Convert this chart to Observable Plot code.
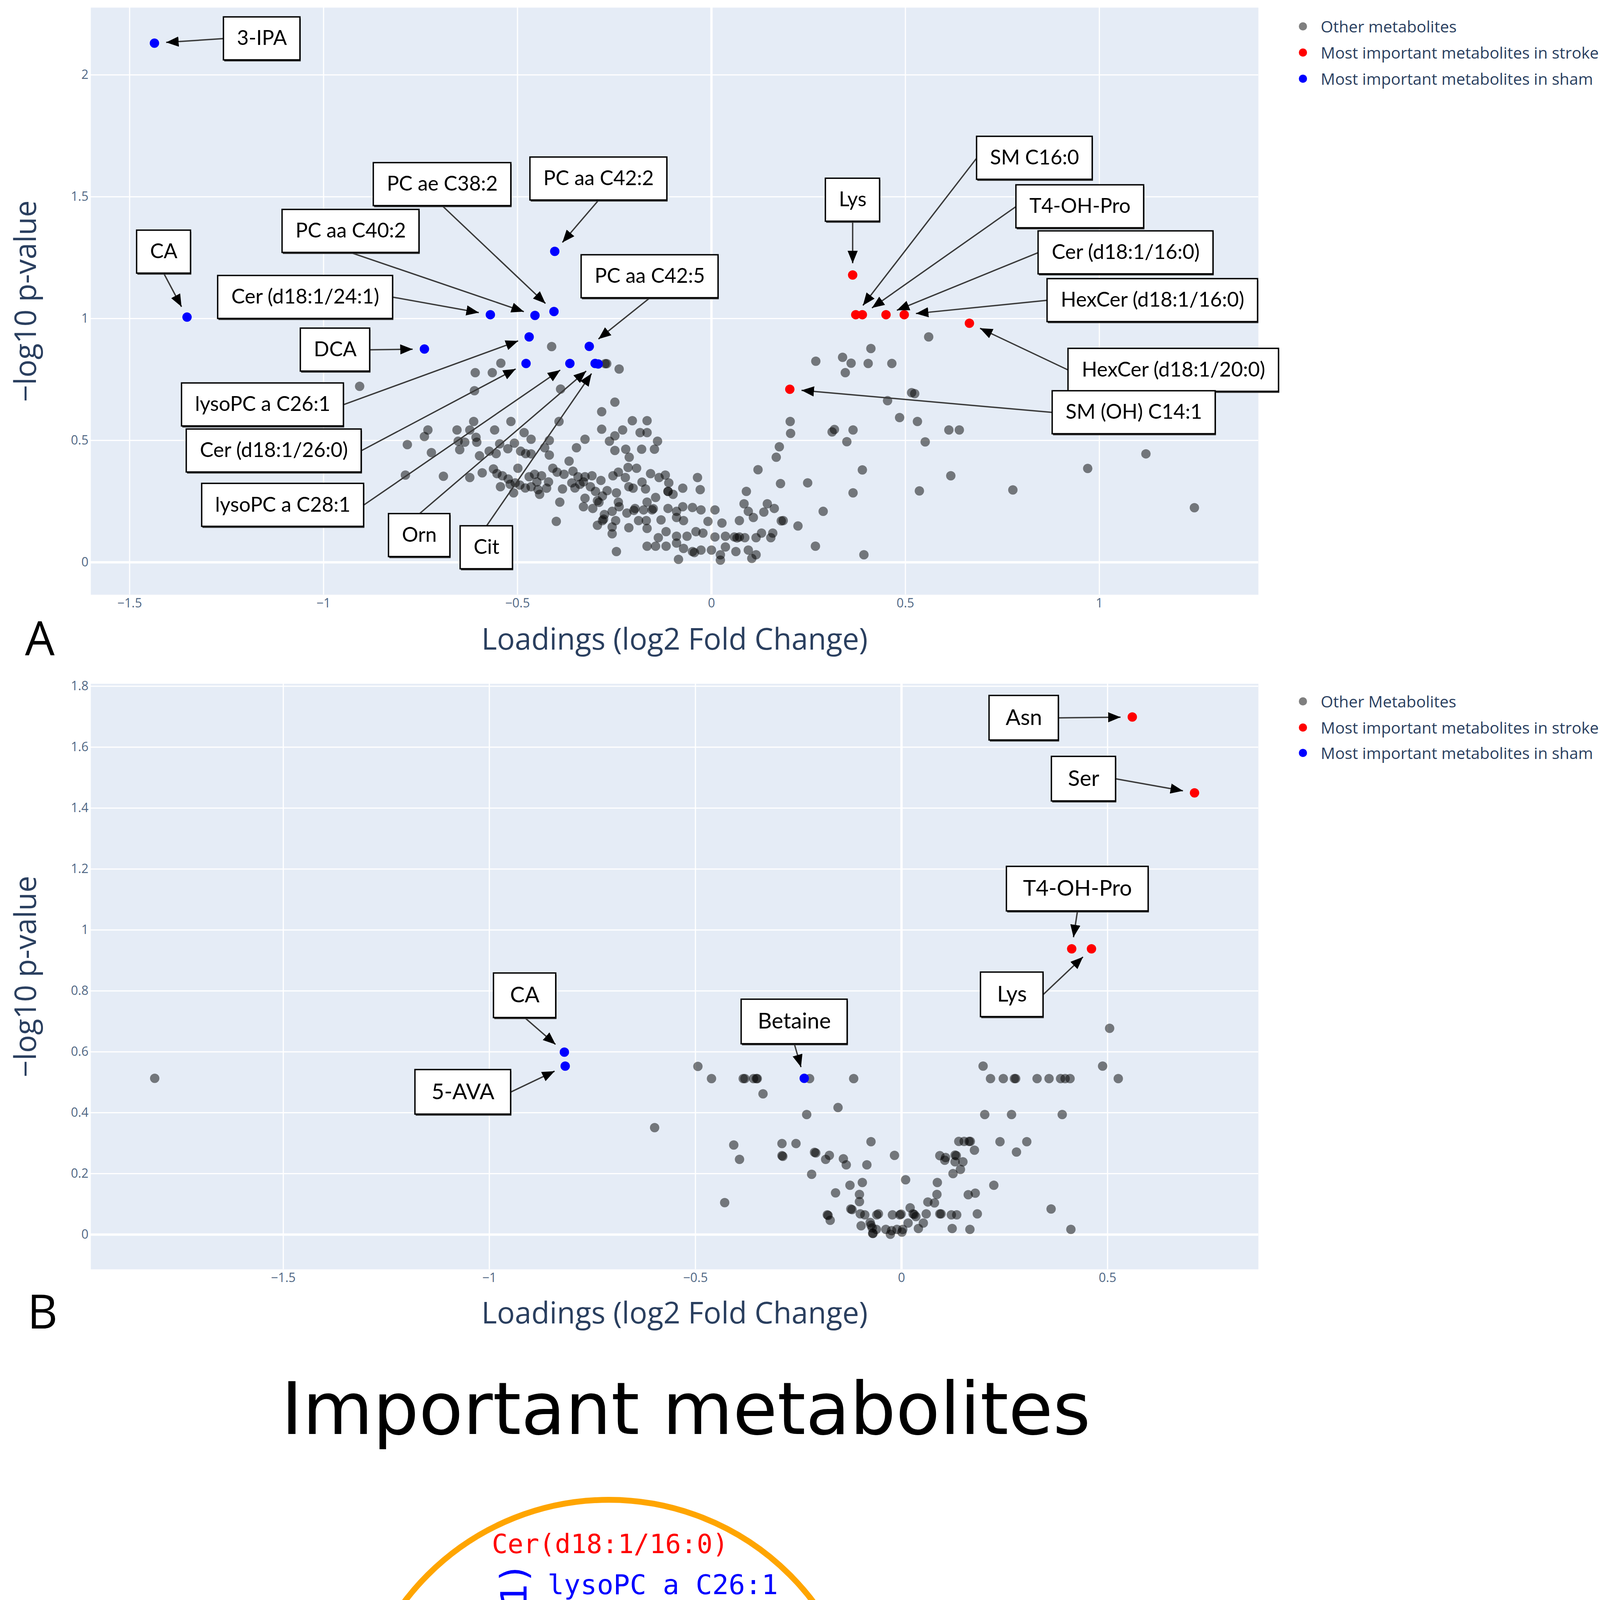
<!DOCTYPE html>
<html><head><meta charset="utf-8">
<script src="https://cdn.jsdelivr.net/npm/d3@7"></script>
<script src="https://cdn.jsdelivr.net/npm/@observablehq/plot@0.6"></script>
<style>
html,body{margin:0;padding:0;background:#fff;overflow:hidden;}
#page{position:relative;width:4188px;height:5485px;overflow:hidden;background:#fff;}
.legend-item{position:absolute;display:flex;align-items:center;height:60px;font-family:"Open Sans";font-size:41px;color:#2a3f5f;white-space:nowrap;}
.legend-item .m{display:inline-block;width:21px;height:21px;border-radius:50%;margin-right:35px;}
.letter{position:absolute;font-family:"Open Sans";font-size:120px;line-height:1;color:#000;}
.ctitle{position:absolute;font-family:"DejaVu Sans";font-size:185px;line-height:1;color:#000;text-align:center;white-space:nowrap;}
</style></head>
<body><div id="page"></div>
<script>
// ================= DATA =================
// Panel A (plasma): other metabolites [log2FC loading, -log10 p]
const plasmaOther = [
[-0.412,0.885],[-0.543,0.817],[-0.609,0.778],[-0.565,0.778],[-0.907,0.722],[-0.611,0.704],[-0.389,0.711],[-0.283,0.618],[-0.613,0.578],[-0.517,0.578],[-0.393,0.578],[-0.731,0.543],[-0.656,0.543],[-0.623,0.543],[-0.559,0.543],[-0.740,0.516],[-0.607,0.513],[-0.483,0.532],[-0.465,0.505],[-0.418,0.500],[-0.326,0.505],[-0.283,0.546],[-0.784,0.483],[-0.653,0.497],[-0.636,0.493],[-0.605,0.493],[-0.546,0.486],[-0.508,0.489],[-0.348,0.470],[-0.722,0.450],[-0.649,0.462],[-0.598,0.437],[-0.573,0.456],[-0.555,0.446],[-0.525,0.466],[-0.492,0.456],[-0.479,0.446],[-0.465,0.445],[-0.430,0.470],[-0.418,0.440],[-0.367,0.415],[-0.499,0.386],[-0.562,0.383],[-0.591,0.367],[-0.789,0.358],[-0.691,0.353],[-0.623,0.348],[-0.553,0.364],[-0.539,0.355],[-0.524,0.342],[-0.506,0.326],[-0.470,0.351],[-0.456,0.361],[-0.438,0.355],[-0.409,0.386],[-0.398,0.370],[-0.380,0.361],[-0.357,0.374],[-0.344,0.351],[-0.326,0.351],[-0.308,0.355],[-0.285,0.336],[-0.544,0.310],[-0.519,0.320],[-0.494,0.317],[-0.465,0.310],[-0.447,0.298],[-0.425,0.304],[-0.384,0.301],[-0.360,0.326],[-0.339,0.320],[-0.312,0.310],[-0.299,0.291],[-0.510,0.285],[-0.443,0.279],[-0.391,0.247],[-0.326,0.263],[-0.330,0.228],[-0.306,0.221],[-0.294,0.253],[-0.281,0.272],[-0.400,0.168],[-0.294,0.152],[-0.281,0.171],[-0.276,0.196],
[-0.274,0.815],[-0.270,0.815],[-0.238,0.793],[-0.249,0.657],[-0.204,0.581],[-0.166,0.581],[-0.229,0.543],[-0.184,0.532],[-0.166,0.532],[-0.249,0.519],[-0.263,0.497],[-0.139,0.497],[-0.249,0.459],[-0.221,0.464],[-0.180,0.464],[-0.147,0.464],[-0.212,0.431],[-0.215,0.389],[-0.193,0.386],[-0.240,0.370],[-0.254,0.355],[-0.222,0.348],[-0.157,0.364],[-0.135,0.348],[-0.119,0.358],[-0.036,0.348],[-0.179,0.329],[-0.110,0.326],[-0.074,0.304],[-0.029,0.298],[-0.269,0.294],[-0.245,0.285],[-0.202,0.304],[-0.170,0.301],[-0.112,0.291],[-0.099,0.279],[-0.213,0.310],[-0.144,0.266],[-0.240,0.247],[-0.166,0.247],[-0.256,0.209],[-0.238,0.228],[-0.197,0.221],[-0.175,0.215],[-0.153,0.215],[-0.112,0.221],[-0.090,0.209],[-0.074,0.228],[-0.049,0.225],[-0.027,0.215],[0.009,0.215],[0.084,0.240],[0.144,0.240],[0.162,0.221],[0.095,0.209],[0.135,0.206],[-0.218,0.202],[-0.278,0.177],[-0.247,0.171],[-0.188,0.171],[-0.168,0.171],[-0.130,0.174],[-0.090,0.184],[-0.072,0.171],[-0.009,0.168],[0.027,0.161],[0.072,0.171],[0.108,0.184],[0.185,0.171],[0.223,0.149],[-0.256,0.145],[-0.213,0.142],[-0.166,0.139],[-0.137,0.101],[-0.117,0.126],[-0.090,0.107],[-0.063,0.107],[-0.040,0.126],[-0.022,0.120],[0.009,0.104],[0.036,0.107],[0.059,0.104],[0.072,0.104],[0.086,0.101],[0.115,0.101],[0.129,0.120],[0.158,0.120],[0.153,0.101],[-0.256,0.117],[-0.245,0.044],[-0.166,0.066],[-0.144,0.066],[-0.117,0.066],[-0.090,0.079],[-0.072,0.057],[-0.049,0.044],[-0.027,0.050],[0.000,0.050],[0.023,0.031],[0.036,0.063],[0.063,0.044],[0.095,0.050],[0.115,0.031],[-0.085,0.012],[0.023,0.009],[0.104,0.016],[0.268,0.066],[0.288,0.209],[0.178,0.323],[0.248,0.326],[0.090,0.291],[0.120,0.380],[0.167,0.431],[0.175,0.474],[0.203,0.578],[0.204,0.529],[0.269,0.825],[0.338,0.841],[0.360,0.817],[0.345,0.778],[0.311,0.535],[0.317,0.545],[0.365,0.543],[0.349,0.495],[0.365,0.285],
[-0.290,0.246],[-0.112,0.291],[-0.044,0.040],[0.066,0.100],[0.180,0.170],[-0.200,0.213],[-0.150,0.220],[-0.330,0.330],[-0.352,0.305],[-0.420,0.330],[-0.450,0.330],[-0.480,0.305],
[0.404,0.816],[0.465,0.816],[0.516,0.696],[0.524,0.692],[0.454,0.663],[0.485,0.594],[0.531,0.578],[0.551,0.494],[0.612,0.543],[0.639,0.543],[0.389,0.379],[0.617,0.355],[0.970,0.385],[1.120,0.445],[0.536,0.293],[0.777,0.297],[1.245,0.224],[0.393,0.031],[0.560,0.925],[0.411,0.877]
];
const plasmaStrokeNames = ["Lys","SM C16:0","T4-OH-Pro","Cer (d18:1/16:0)","HexCer (d18:1/16:0)","HexCer (d18:1/20:0)","SM (OH) C14:1"];
const plasmaStrokeX = [0.364,0.372,0.389,0.450,0.497,0.665,0.202];
const plasmaStrokeY = [1.179,1.016,1.016,1.016,1.016,0.981,0.710];
const plasmaShamNames = ["3-IPA","CA","Cer (d18:1/24:1)","PC aa C40:2","PC ae C38:2","PC aa C42:2","PC aa C42:5","DCA","lysoPC a C26:1","Cer (d18:1/26:0)","lysoPC a C28:1","Orn","Cit"];
const plasmaShamX = [-1.436,-1.352,-0.570,-0.455,-0.406,-0.404,-0.315,-0.740,-0.470,-0.478,-0.365,-0.300,-0.292];
const plasmaShamY = [2.130,1.006,1.016,1.013,1.029,1.276,0.886,0.875,0.925,0.816,0.816,0.816,0.814];

// Panel B (heart)
const heartOther = [
[-1.812,0.513],[0.505,0.677],
[-0.494,0.552],[-0.461,0.512],[-0.384,0.512],[-0.380,0.512],[-0.359,0.512],[-0.352,0.512],[-0.350,0.512],[-0.336,0.462],[-0.223,0.512],[-0.116,0.512],[-0.230,0.394],[-0.154,0.417],[-0.599,0.351],[-0.407,0.294],[-0.393,0.247],[-0.290,0.299],[-0.256,0.299],[-0.290,0.259],[-0.288,0.257],[-0.211,0.270],[-0.208,0.268],[-0.184,0.247],[-0.175,0.260],[-0.141,0.249],[-0.134,0.229],[-0.084,0.229],[-0.074,0.305],[-0.218,0.198],[-0.429,0.105],[-0.160,0.137],[-0.125,0.162],[-0.095,0.171],[-0.102,0.132],[-0.102,0.108],[-0.123,0.084],[-0.120,0.082],[-0.100,0.068],[-0.089,0.065],[-0.180,0.065],[-0.178,0.063],[-0.173,0.047],[-0.098,0.029],[-0.076,0.040],[-0.071,0.022],[-0.069,0.004],[-0.060,0.065],
[0.198,0.553],[0.488,0.553],[0.216,0.512],[0.247,0.512],[0.274,0.512],[0.277,0.512],[0.329,0.512],[0.358,0.512],[0.386,0.512],[0.397,0.512],[0.409,0.512],[0.526,0.512],[0.202,0.394],[0.267,0.394],[0.390,0.394],[-0.017,0.260],[0.139,0.306],[0.152,0.306],[0.164,0.306],[0.167,0.306],[0.177,0.277],[0.239,0.305],[0.304,0.305],[0.279,0.271],[0.093,0.259],[0.107,0.253],[0.130,0.261],[0.133,0.259],[0.105,0.244],[0.130,0.239],[0.149,0.239],[0.143,0.214],[0.125,0.200],[0.010,0.180],[0.087,0.171],[0.224,0.162],[0.086,0.132],[0.162,0.131],[0.179,0.136],[0.064,0.107],[0.080,0.104],[0.021,0.088],[0.363,0.084],[-0.056,0.068],[-0.022,0.065],[-0.004,0.065],[-0.001,0.067],[0.028,0.068],[0.031,0.066],[0.035,0.059],[0.060,0.068],[0.093,0.068],[0.096,0.068],[0.121,0.065],[0.134,0.065],[0.184,0.068],[-0.074,0.031],[-0.061,0.017],[-0.038,0.017],[-0.024,0.013],[-0.011,0.017],[0.003,0.017],[-0.070,0.004],[-0.027,0.001],[0.001,0.008],[0.041,0.020],[0.016,0.038],[0.053,0.038],[0.123,0.020],[0.166,0.017],[0.411,0.017]
];
const heartStrokeNames = ["Asn","Ser","T4-OH-Pro","Lys"];
const heartStrokeX = [0.560,0.711,0.413,0.461];
const heartStrokeY = [1.699,1.450,0.938,0.938];
const heartShamNames = ["CA","5-AVA","Betaine"];
const heartShamX = [-0.818,-0.816,-0.236];
const heartShamY = [0.599,0.553,0.513];

// Tick values
const plasmaXTicks = [-1.5,-1,-0.5,0,0.5,1];
const plasmaYTicks = [0,0.5,1,1.5,2];
const heartXTicks = [-1.5,-1,-0.5,0,0.5];
const heartYTicks = [0,0.2,0.4,0.6,0.8,1,1.2,1.4,1.6,1.8];

// Legend labels
const legendA = ["Other metabolites","Most important metabolites in stroke","Most important metabolites in sham"];
const legendB = ["Other Metabolites","Most important metabolites in stroke","Most important metabolites in sham"];

// Panel C (Venn word cloud)
const vennWords = ["Cer(d18:1/16:0)","lysoPC a C26:1","Cer(d18:1/26:0)","lysoPC a C28:1","Cer(d18:0/24:1)","PC aa C42:5","PC aa C40:2","3-IPA","Orn","Cit","DCA","SM C16:0","SM (OH) C14:1","PC ae C38:2","PC aa C42:2","HexCer(d18:1/20:0)","HexCer(d18:1/16:0)","CA","t4-OH-Pro","Lys","5-AVA","Betaine","Asn","Ser"];
const vennGroup = ["stroke","sham","sham","sham","sham","sham","sham","sham","sham","sham","sham","stroke","stroke","sham","sham","stroke","stroke","sham","stroke","stroke","sham","sham","stroke","stroke"];
const vennSet = ["Plasma","Plasma","Plasma","Plasma","Plasma","Plasma","Plasma","Plasma","Plasma","Plasma","Plasma","Plasma","Plasma","Plasma","Plasma","Plasma","Plasma","Both","Both","Both","Heart","Heart","Heart","Heart"];
const vennSets = ["Plasma","Heart"];

// ================= LAYOUT (positions / sizes, not data) =================
const plasmaCallouts = [
 {name:"3-IPA", bx:-1.159, by:2.149, side:"left"},
 {name:"CA", bx:-1.412, by:1.274, side:"bottom"},
 {name:"Cer (d18:1/24:1)", bx:-1.047, by:1.088, side:"right"},
 {name:"PC aa C40:2", bx:-0.930, by:1.359, side:"bottom"},
 {name:"PC ae C38:2", bx:-0.694, by:1.551, side:"bottom"},
 {name:"PC aa C42:2", bx:-0.291, by:1.574, side:"bottom"},
 {name:"PC aa C42:5", bx:-0.159, by:1.173, side:"bottom"},
 {name:"DCA", bx:-0.970, by:0.872, side:"right"},
 {name:"lysoPC a C26:1", bx:-1.157, by:0.647, side:"right"},
 {name:"Cer (d18:1/26:0)", bx:-1.128, by:0.458, side:"right"},
 {name:"lysoPC a C28:1", bx:-1.105, by:0.235, side:"right"},
 {name:"Orn", bx:-0.753, by:0.111, side:"top"},
 {name:"Cit", bx:-0.580, by:0.061, side:"top"},
 {name:"Lys", bx:0.364, by:1.487, side:"bottom"},
 {name:"SM C16:0", bx:0.833, by:1.659, side:"left"},
 {name:"T4-OH-Pro", bx:0.950, by:1.460, side:"left"},
 {name:"Cer (d18:1/16:0)", bx:1.068, by:1.271, side:"left"},
 {name:"HexCer (d18:1/16:0)", bx:1.137, by:1.075, side:"left"},
 {name:"HexCer (d18:1/20:0)", bx:1.191, by:0.789, side:"left"},
 {name:"SM (OH) C14:1", bx:1.089, by:0.615, side:"left"}
];
const heartCallouts = [
 {name:"CA", bx:-0.914, by:0.785, side:"bottom"},
 {name:"5-AVA", bx:-1.064, by:0.468, side:"right"},
 {name:"Betaine", bx:-0.260, by:0.699, side:"bottom"},
 {name:"Asn", bx:0.297, by:1.696, side:"right"},
 {name:"Ser", bx:0.442, by:1.496, side:"right"},
 {name:"T4-OH-Pro", bx:0.427, by:1.135, side:"bottom"},
 {name:"Lys", bx:0.268, by:0.788, side:"right"}
];
// Venn layout in circle units (plasma circle radius = 1)
const vennCircleCX = [0, 1.0];
const vennCircleCY = [0, -0.003];
const vennCircleR = [1, 0.595];
const vennCircleColor = ["#FFA500","#FF0000"];
const vennU = [0.005,0.211,0.104,0.124,-0.366,-0.530,-0.884,-0.744,-0.026,-0.096,0.260,0.046,0.069,0.049,0.229,0.021,-0.018,0.758,0.707,0.817,1.145,1.324,1.134,1.092];
const vennV = [0.824,0.666,0.493,0.402,0.121,-0.125,-0.038,-0.420,0.200,0.064,0.064,-0.121,-0.281,-0.421,-0.591,-0.696,-0.792,0.374,0.027,-0.093,0.122,0.043,-0.198,-0.382];
const vennSize = [67,70,58,57,92,92,57,69,91,92,92,57,57,67,93,70,58,64,65,86,91,91,91,88];
const vennRotate = [0,0,0,0,-90,-90,-90,-90,0,0,0,0,0,0,0,0,0,-90,0,0,-90,-90,0,0];
const vennSetLabelU = [-0.469, 1.373];
const vennSetLabelV = [-1.185, -0.779];

// ================= HELPERS =================
const page = document.getElementById("page");
function place(el, left, top) {
  el.style.position = "absolute"; el.style.left = left + "px"; el.style.top = top + "px";
  page.appendChild(el); return el;
}
const measureCtx = document.createElement("canvas").getContext("2d");
function textWidth(s, font) { measureCtx.font = font; return measureCtx.measureText(s).width; }

function headMarker(color, context) {
  const doc = (context && context.document) ? context.document : document;
  const ns = "http://www.w3.org/2000/svg";
  const m = doc.createElementNS(ns, "marker");
  m.setAttribute("viewBox", "-32 -13 32 26");
  m.setAttribute("markerWidth", "32");
  m.setAttribute("markerHeight", "26");
  m.setAttribute("markerUnits", "userSpaceOnUse");
  m.setAttribute("refX", "0");
  m.setAttribute("refY", "0");
  m.setAttribute("orient", "auto");
  const p = doc.createElementNS(ns, "path");
  p.setAttribute("d", "M-32,-13L0,0L-32,13Z");
  p.setAttribute("fill", "#000");
  p.setAttribute("stroke", "none");
  m.appendChild(p);
  return m;
}

function volcano(cfg) {
  const sx = d3.scaleLinear(cfg.xDomain, [cfg.ml, cfg.width - cfg.mr]);
  const sy = d3.scaleLinear(cfg.yDomain, [cfg.height - cfg.mb, cfg.mt]);
  const strokePts = cfg.strokeNames.map((n, i) => ({name: n, x: cfg.strokeX[i], y: cfg.strokeY[i]}));
  const shamPts = cfg.shamNames.map((n, i) => ({name: n, x: cfg.shamX[i], y: cfg.shamY[i]}));
  const byName = new Map([...strokePts, ...shamPts].map(d => [d.name, d]));
  const font = `${cfg.boxFont}px Lato`;
  const calls = cfg.callouts.map(c => {
    const p = byName.get(c.name);
    const w = textWidth(c.name, font) + 2 * cfg.padX, h = cfg.boxH;
    const cx = sx(c.bx), cy = sy(c.by);
    let tx = cx, ty = cy;
    if (c.side === "left") tx = cx - w / 2;
    else if (c.side === "right") tx = cx + w / 2;
    else if (c.side === "top") ty = cy - h / 2;
    else ty = cy + h / 2;
    const px = sx(p.x), py = sy(p.y);
    const L = Math.hypot(tx - px, ty - py);
    const ex = px + (tx - px) / L * cfg.standoff, ey = py + (ty - py) / L * cfg.standoff;
    return {name: c.name, bx: c.bx, by: c.by,
      tailX: sx.invert(tx), tailY: sy.invert(ty), tipX: sx.invert(ex), tipY: sy.invert(ey),
      x1: sx.invert(cx - w / 2), x2: sx.invert(cx + w / 2), y1: sy.invert(cy + h / 2), y2: sy.invert(cy - h / 2)};
  });
  const fmt = d3.format("~g");
  const build = (marker) => Plot.plot({
    width: cfg.width, height: cfg.height,
    marginLeft: cfg.ml, marginRight: cfg.mr, marginTop: cfg.mt, marginBottom: cfg.mb,
    x: {domain: cfg.xDomain, range: [cfg.ml, cfg.width - cfg.mr]},
    y: {domain: cfg.yDomain, range: [cfg.height - cfg.mb, cfg.mt]},
    style: {fontFamily: "'Open Sans'", color: "#506784", background: "transparent", overflow: "visible"},
    marks: [
      Plot.frame({fill: "#E5ECF6", stroke: "none"}),
      Plot.gridX(cfg.xTicks, {stroke: "#ffffff", strokeOpacity: 1, strokeWidth: 3}),
      Plot.gridY(cfg.yTicks, {stroke: "#ffffff", strokeOpacity: 1, strokeWidth: 3}),
      Plot.ruleX([0], {stroke: "#ffffff", strokeWidth: 6}),
      Plot.ruleY([0], {stroke: "#ffffff", strokeWidth: 6}),
      Plot.axisX(cfg.xTicks, {tickSize: 0, tickPadding: 10, tickFormat: fmt, fontSize: 32, label: null}),
      Plot.axisY(cfg.yTicks, {tickSize: 0, tickPadding: 6, tickFormat: fmt, fontSize: 32, label: null}),
      Plot.dot(cfg.other, {x: d => d[0], y: d => d[1], r: 12, fill: "#000", fillOpacity: 0.5}),
      Plot.dot(strokePts, {x: "x", y: "y", r: 12, fill: "#ff0000"}),
      Plot.dot(shamPts, {x: "x", y: "y", r: 12, fill: "#0000ff"}),
      Plot.link(calls, {x1: "tailX", y1: "tailY", x2: "tipX", y2: "tipY", stroke: "#3a3a3a", strokeWidth: 3.5, markerEnd: marker}),
      Plot.rect(calls, {x1: "x1", x2: "x2", y1: "y1", y2: "y2", fill: "#333", dx: 2, dy: 4}),
      Plot.rect(calls, {x1: "x1", x2: "x2", y1: "y1", y2: "y2", fill: "#fff", stroke: "#000", strokeWidth: 3.5}),
      Plot.text(calls, {x: "bx", y: "by", text: "name", fontSize: cfg.boxFont, fontFamily: "Lato", fill: "#000"}),
      Plot.text([cfg.xTitle], {text: d => d, frameAnchor: "bottom", lineAnchor: "middle", textAnchor: "middle", dy: cfg.xTitleDy, fontSize: 76, fill: "#2a3f5f", fontFamily: "Open Sans"}),
      Plot.text([cfg.yTitle], {text: d => d, frameAnchor: "left", lineAnchor: "middle", textAnchor: "middle", dx: -165, rotate: -90, fontSize: 76, fill: "#2a3f5f", fontFamily: "Open Sans"})
    ]
  });
  try { return build(headMarker); } catch (e) { return build("arrow"); }
}

function legend(labels, rowsY) {
  const colors = ["rgba(0,0,0,0.5)", "#ff0000", "#0000ff"];
  labels.forEach((t, i) => {
    const d = document.createElement("div");
    d.className = "legend-item";
    const m = document.createElement("span"); m.className = "m"; m.style.background = colors[i];
    d.appendChild(m); d.appendChild(document.createTextNode(t));
    place(d, 3325, rowsY[i] - 30);
  });
}
function letter(t, left, top) {
  const d = document.createElement("div"); d.className = "letter"; d.textContent = t; place(d, left, top);
}

// ================= PANEL A =================
const svgA = volcano({
  width: 3300, height: 1700, ml: 232, mr: 79, mt: 19, mb: 178,
  xDomain: [-1.600, 1.410], yDomain: [-0.133, 2.276],
  xTicks: plasmaXTicks, yTicks: plasmaYTicks,
  other: plasmaOther,
  strokeNames: plasmaStrokeNames, strokeX: plasmaStrokeX, strokeY: plasmaStrokeY,
  shamNames: plasmaShamNames, shamX: plasmaShamX, shamY: plasmaShamY,
  callouts: plasmaCallouts, boxFont: 52, padX: 34, boxH: 110, standoff: 30,
  xTitle: "Loadings (log2 Fold Change)", yTitle: "\u2212log10 p-value", xTitleDy: 116
});
place(svgA, 0, 0);
legend(legendA, [67, 134, 201]);
letter("A", 64, 1571);

// ================= PANEL B =================
const svgB = volcano({
  width: 3300, height: 1750, ml: 232, mr: 79, mt: 50, mb: 201,
  xDomain: [-1.967, 0.866], yDomain: [-0.114, 1.808],
  xTicks: heartXTicks, yTicks: heartYTicks,
  other: heartOther,
  strokeNames: heartStrokeNames, strokeX: heartStrokeX, strokeY: heartStrokeY,
  shamNames: heartShamNames, shamX: heartShamX, shamY: heartShamY,
  callouts: heartCallouts, boxFont: 56, padX: 42, boxH: 114, standoff: 30,
  xTitle: "Loadings (log2 Fold Change)", yTitle: "\u2212log10 p-value", xTitleDy: 114
});
place(svgB, 0, 1700);
legend(legendB, [1795, 1862, 1927]);
letter("B", 70, 3295);

// ================= PANEL C =================
(function () {
  const W = 2000, H = 1650;
  const xDom = [-1.1573, 1.8962], yDom = [-1.3832, 1.1359];
  const k = W / (xDom[1] - xDom[0]);
  const circles = vennSets.map((s, i) => ({set: s, cx: vennCircleCX[i], cy: vennCircleCY[i], radius: vennCircleR[i], color: vennCircleColor[i]}));
  const words = vennWords.map((w, i) => ({word: w, group: vennGroup[i], set: vennSet[i], u: vennU[i], v: vennV[i], size: vennSize[i], rot: vennRotate[i]}));
  const setLabels = vennSets.map((s, i) => ({label: s, u: vennSetLabelU[i], v: vennSetLabelV[i]}));
  const svgC = Plot.plot({
    width: W, height: H, margin: 0,
    x: {domain: xDom, range: [0, W], axis: null},
    y: {domain: yDom, range: [H, 0], axis: null},
    color: {domain: ["stroke", "sham"], range: ["#ff0000", "#0000ff"]},
    style: {background: "transparent", overflow: "visible"},
    marks: [
      Plot.dot([circles[0]], {x: "cx", y: "cy", r: circles[0].radius * k, stroke: circles[0].color, strokeWidth: 15, fill: "none"}),
      Plot.dot([circles[1]], {x: "cx", y: "cy", r: circles[1].radius * k, stroke: circles[1].color, strokeWidth: 15, fill: "none"}),
      Plot.text(words, {x: "u", y: "v", text: "word", fill: "group", fontSize: "size", rotate: "rot", fontFamily: "DejaVu Sans Mono"}),
      Plot.text(setLabels, {x: "u", y: "v", text: "label", fontSize: 165, fontFamily: "DejaVu Sans", fill: "#000"})
    ]
  });
  place(svgC, 800, 3750);
  const t = document.createElement("div");
  t.className = "ctitle"; t.textContent = "Important metabolites"; t.style.width = "3512px";
  place(t, 0, 3515);
  letter("C", 64, 5348);
})();
</script>
</body></html>
